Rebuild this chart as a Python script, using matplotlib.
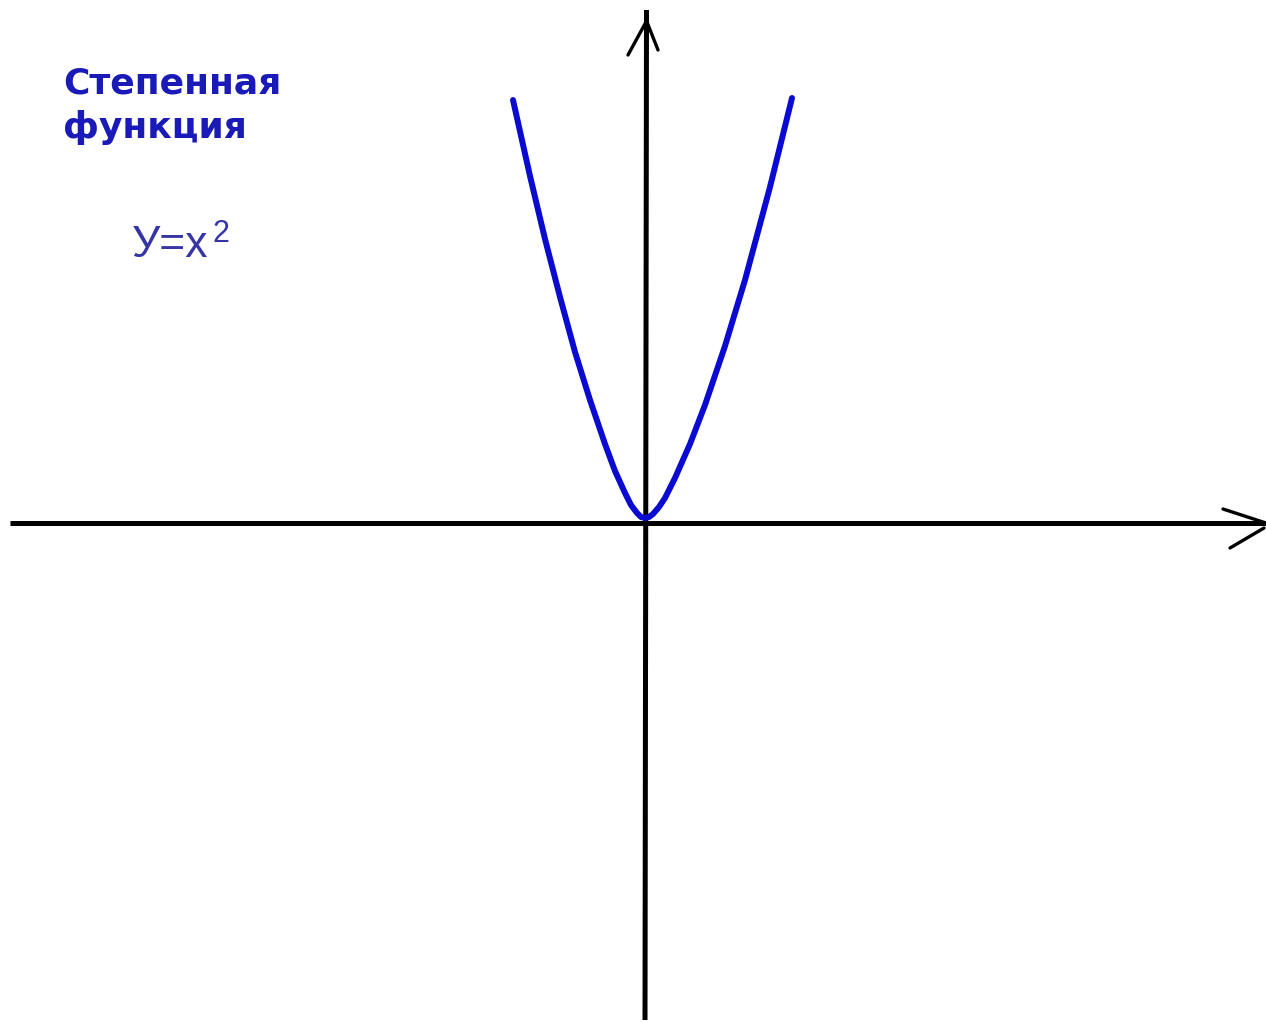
import matplotlib
matplotlib.use("Agg")
import matplotlib.pyplot as plt

# Curve points (data units: 100 px per unit, origin at axes crossing)
curve_x = [-1.32, -1.15, -1.00, -0.85, -0.70, -0.55, -0.40, -0.30, -0.20, -0.14, -0.08, -0.04, 0.00,
           0.04, 0.08, 0.14, 0.20, 0.30, 0.45, 0.60, 0.80, 1.00, 1.25, 1.47]
curve_y = [4.22, 3.46, 2.83, 2.25, 1.70, 1.22, 0.78, 0.51, 0.29, 0.17, 0.09, 0.05, 0.04,
           0.05, 0.08, 0.15, 0.24, 0.44, 0.78, 1.17, 1.76, 2.42, 3.35, 4.24]

# Axis lines
x_axis_x = [-6.35, 6.21]
x_axis_y = [-0.01, -0.01]
y_axis_x = [0.015, 0.0]
y_axis_y = [5.12, -4.98]

# Arrow barbs
right_barb1_x = [5.78, 6.21]
right_barb1_y = [0.13, -0.01]
right_barb2_x = [5.85, 6.19]
right_barb2_y = [-0.26, -0.06]
top_barb1_x = [-0.17, 0.01]
top_barb1_y = [4.67, 5.00]
top_barb2_x = [0.13, 0.02]
top_barb2_y = [4.72, 5.00]

title_lines = ["Степенная", "функция"]
formula = "У=x"
formula_power = "2"

fig = plt.figure(figsize=(12.66, 10.23), dpi=100)
ax = fig.add_axes([0, 0, 1, 1])
ax.set_xlim(-6.45, 6.21)
ax.set_ylim(-5.01, 5.22)
ax.axis("off")

ax.plot(x_axis_x, x_axis_y, color="black", lw=3.6, solid_capstyle="butt")
ax.plot(y_axis_x, y_axis_y, color="black", lw=3.6, solid_capstyle="butt")
for bx, by in [(right_barb1_x, right_barb1_y), (right_barb2_x, right_barb2_y),
               (top_barb1_x, top_barb1_y), (top_barb2_x, top_barb2_y)]:
    ax.plot(bx, by, color="black", lw=2.4, solid_capstyle="round")

ax.plot(curve_x, curve_y, color="#0a0ad0", lw=4.3, solid_joinstyle="round",
        solid_capstyle="round")

ax.text(-5.82, 4.29, title_lines[0], fontsize=26, fontweight="bold",
        family="DejaVu Sans", color="#1a1ab8", ha="left", va="baseline")
ax.text(-5.82, 3.84, title_lines[1], fontsize=26, fontweight="bold",
        family="DejaVu Sans", color="#1a1ab8", ha="left", va="baseline")
ax.text(-5.13, 2.65, formula, fontsize=32, family="Liberation Sans",
        color="#3535a5", ha="left", va="baseline")
ax.text(-4.33, 2.80, formula_power, fontsize=22, family="Liberation Sans",
        color="#3535a5", ha="left", va="baseline")

fig.savefig("out.png", dpi=100)
